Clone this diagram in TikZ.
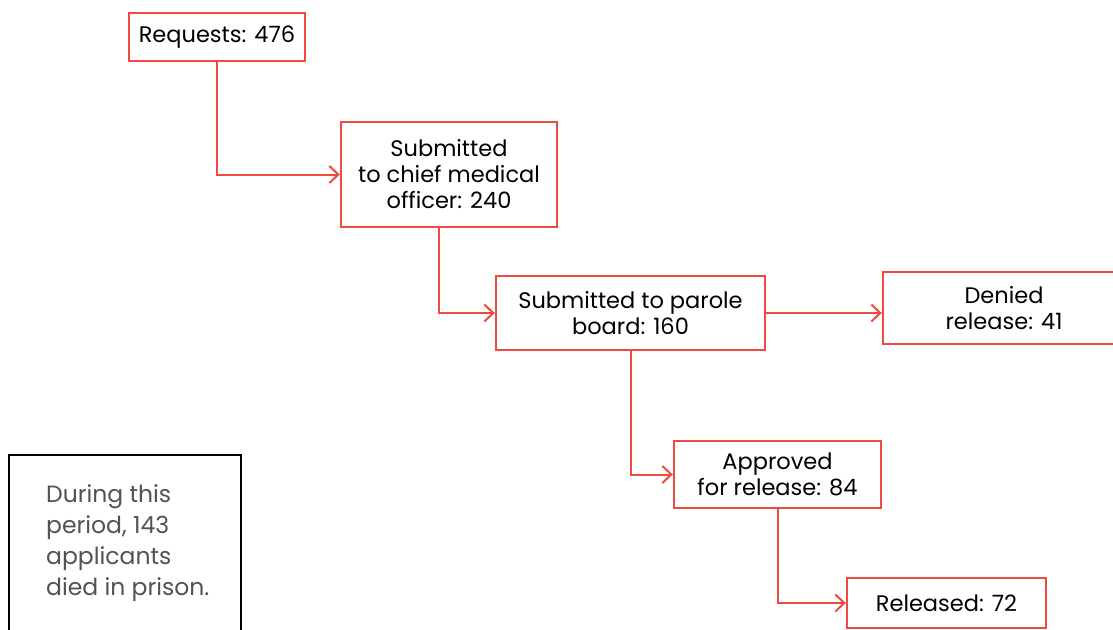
\documentclass[tikz,border=0pt]{standalone}
\usepackage{fontspec}
\setmainfont{Poppins}
\usetikzlibrary{arrows.meta}
\definecolor{boxred}{HTML}{EF4A3F}
\definecolor{notegrey}{HTML}{4F5258}
\tikzset{
  flowbox/.style={draw=boxred, line width=2.4pt, fill=white, inner sep=0pt, align=center,
    font=\fontsize{22.5}{26}\selectfont, text=black},
  flowarrow/.style={draw=boxred, line width=2pt, -{Straight Barb[length=9pt,width=17pt,line width=2pt]}},
  notebox/.style={draw=black, line width=1.4pt, inner sep=0pt},
  notetext/.style={anchor=north west, inner sep=0pt, align=left, text=notegrey,
    font=\fontsize{23.5}{31}\selectfont}
}
\begin{document}
\begin{tikzpicture}[x=1pt,y=-1pt]
\useasboundingbox (0,0) rectangle (1113,629);
\clip (0,0) rectangle (1113,629);
\node[flowbox, minimum width=176pt, minimum height=48pt] (req) at (217,37) {Requests: 476};
\node[flowbox, minimum width=216pt, minimum height=105pt] (cmo) at (449,174.5) {Submitted\\to chief medical\\officer: 240};
\node[flowbox, minimum width=269pt, minimum height=74pt] (parole) at (630.5,313) {Submitted to parole\\board: 160};
\node[flowbox, minimum width=242pt, minimum height=72pt] (denied) at (1004,308) {Denied\\release: 41};
\node[flowbox, minimum width=207pt, minimum height=67pt] (appr) at (777.5,474.5) {Approved\\for release: 84};
\node[flowbox, minimum width=199pt, minimum height=50pt] (rel) at (946.5,603) {Released: 72};
\node[notebox, minimum width=232pt, minimum height=186pt] (note) at (125,548) {};
\node[notetext] (notetxt) at (46,484) {During this\\period, 143\\applicants\\died in prison.};
\draw[flowarrow] (req.south) |- (cmo.west);
\draw[flowarrow] ([xshift=-10pt]cmo.south) |- (parole.west);
\draw[flowarrow] (parole.east) -- (parole.east -| denied.west);
\draw[flowarrow] (parole.south) |- (appr.west);
\draw[flowarrow] (appr.south) |- (rel.west);
\end{tikzpicture}
\end{document}
